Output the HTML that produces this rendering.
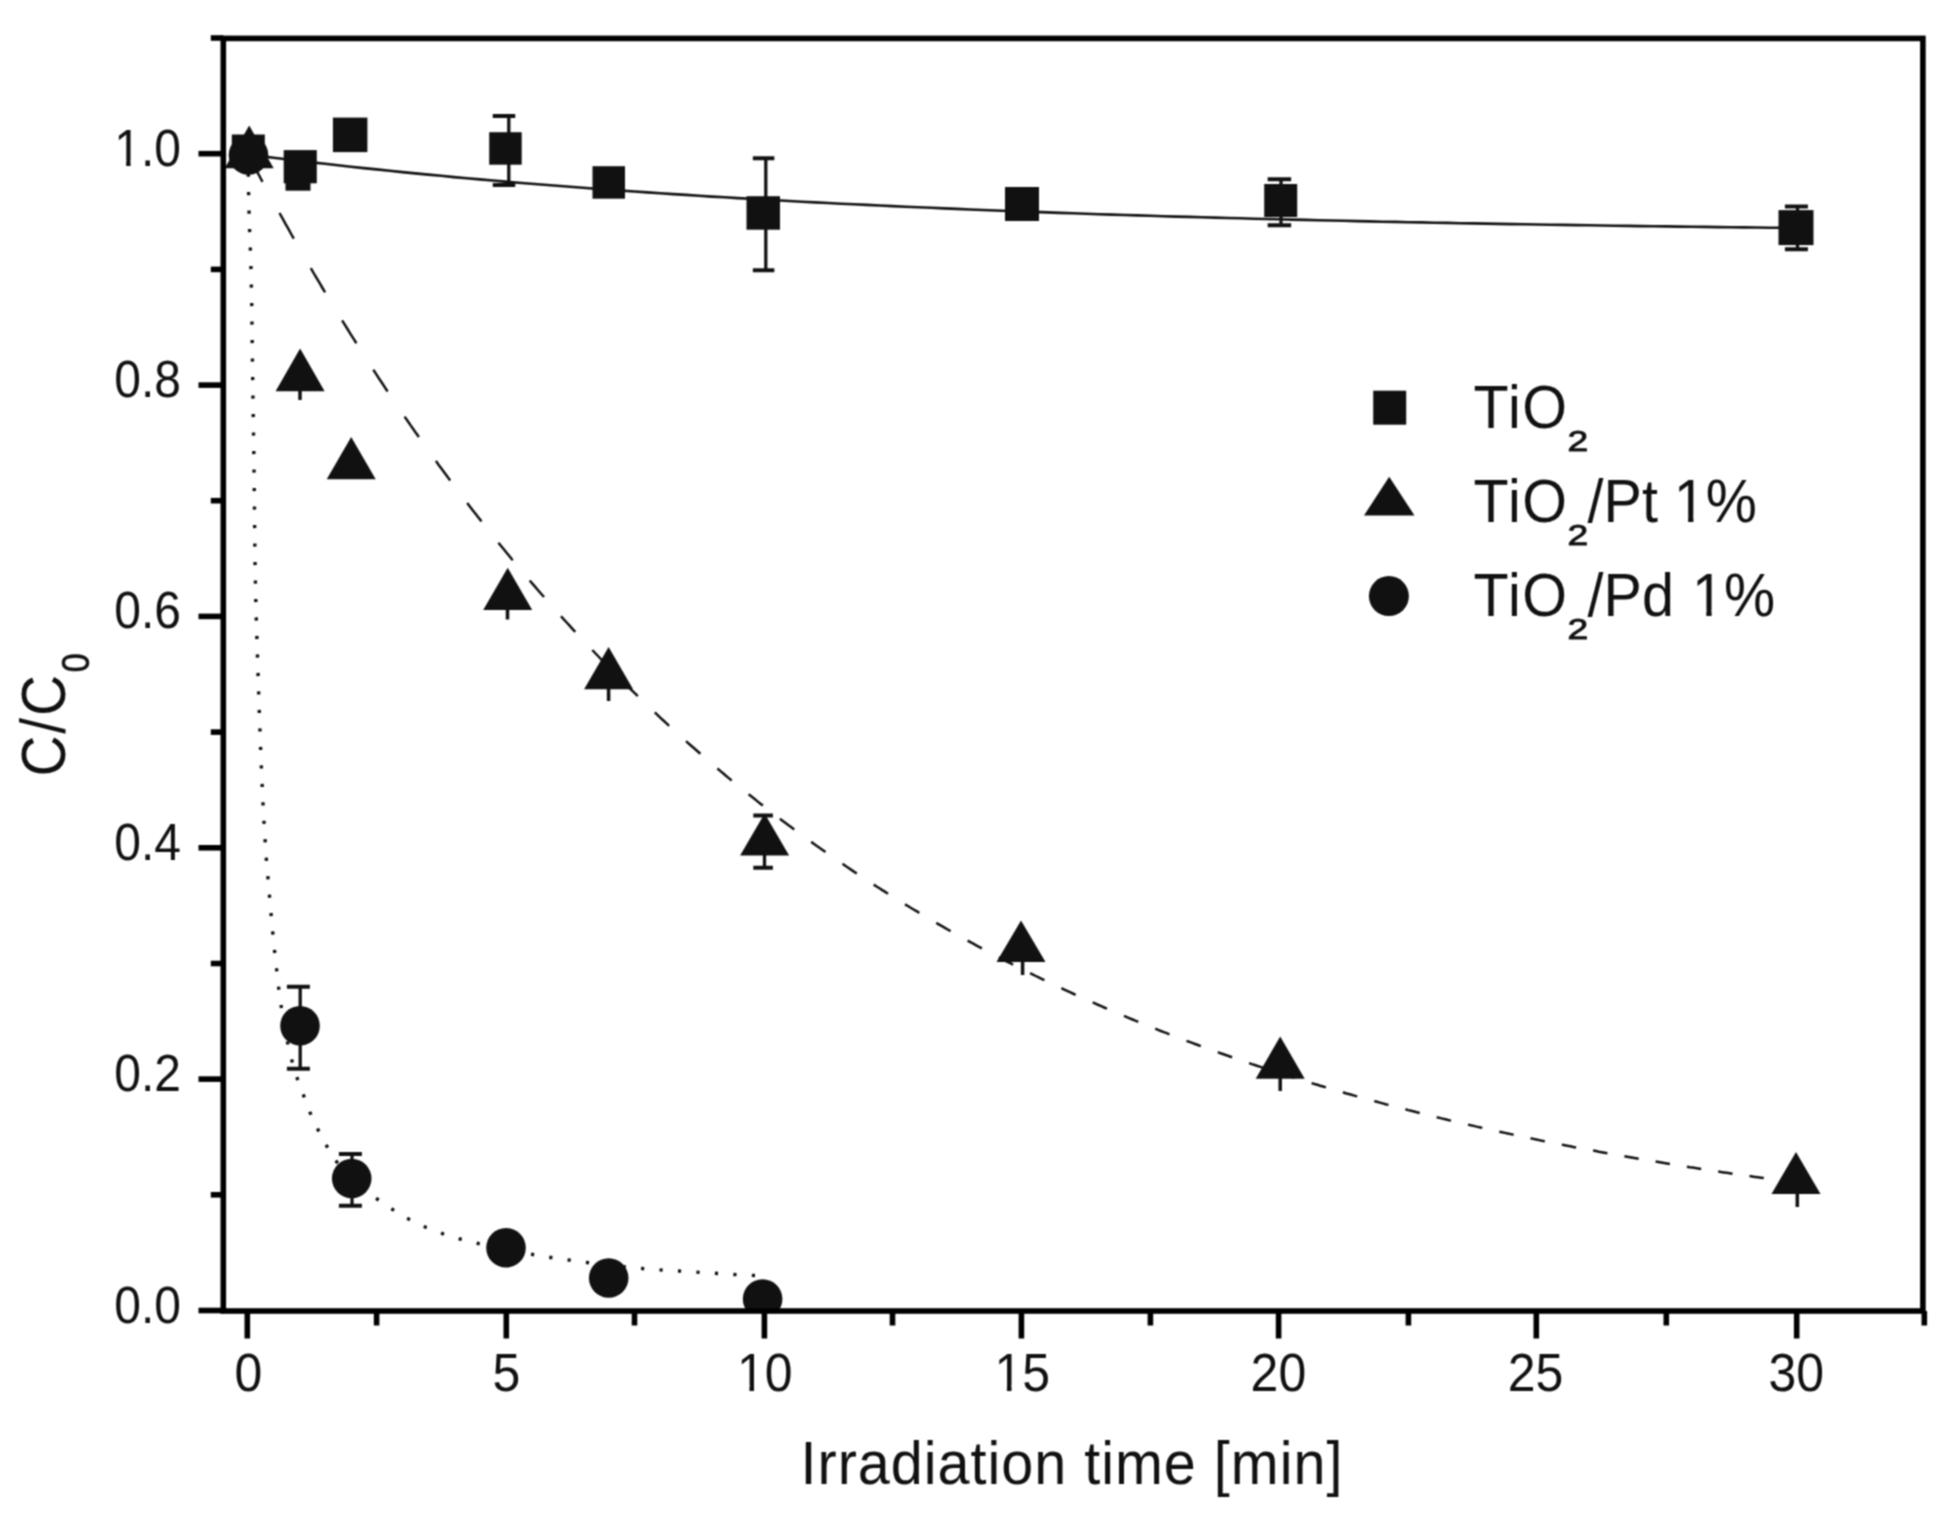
<!DOCTYPE html><html><head><meta charset="utf-8"><title>C/C0 vs irradiation time</title><style>html,body{margin:0;padding:0;background:#fff;overflow:hidden}svg{display:block}</style></head><body>
<svg width="1938" height="1514" viewBox="0 0 1938 1514">
<defs><filter id="soft" x="0" y="0" width="1938" height="1514" filterUnits="userSpaceOnUse" color-interpolation-filters="sRGB"><feConvolveMatrix order="3" kernelMatrix="1 2 1 2 4 2 1 2 1" divisor="16" edgeMode="duplicate" preserveAlpha="true"/></filter></defs>
<g filter="url(#soft)">
<rect width="1938" height="1514" fill="#fff"/>
<defs><clipPath id="pa"><rect x="223.3" y="38.4" width="1699.6000000000001" height="1272.6"/></clipPath><clipPath id="f48"><path clip-rule="evenodd" d="M-300,-300H600V300H-300Z M1.92,-4.80H11.95V2.40H1.92Z M16.37,-4.80H25.92V2.40H16.37Z"/></clipPath><clipPath id="f50"><path clip-rule="evenodd" d="M-300,-300H600V300H-300Z M-25.81,-5.00H-15.36V2.50H-25.81Z M-10.76,-5.00H-0.81V2.50H-10.76Z"/></clipPath><clipPath id="f57"><path clip-rule="evenodd" d="M-300,-300H600V300H-300Z M2.30,-5.75H14.32V2.88H2.30Z M19.61,-5.75H31.05V2.88H19.61Z"/></clipPath></defs>
<g clip-path="url(#pa)">
<path d="M247.8,155.0 L248.3,175.0 L248.7,200.0 L249.6,230.0 L250.8,260.0 L251.7,300.0 L252.3,350.0 L253.0,400.0 L253.8,450.0 L254.4,500.0 L255.0,560.0 L256.0,610.0 L257.6,660.0 L259.2,710.0 L261.0,760.0 L263.3,810.0 L266.0,855.0 L269.0,890.0 L272.0,925.0 L275.5,960.0 L279.5,995.0 L284.0,1025.0 L289.5,1052.0 L296.0,1075.0 L303.0,1094.0 L311.0,1115.0 L321.0,1136.0 L333.5,1158.0 L352.0,1180.0 L370.0,1194.0 L388.0,1206.6 L405.5,1217.5 L424.0,1226.5 L442.0,1233.5 L460.0,1239.0 L478.4,1243.5 L506.0,1249.5 L535.4,1255.0 L554.0,1258.0 L572.3,1260.5 L590.7,1263.0 L608.0,1265.0 L626.7,1267.0 L645.0,1268.8 L664.0,1270.2 L683.0,1271.2 L703.0,1272.6 L720.5,1273.6 L739.0,1274.8 L757.0,1275.6" fill="none" stroke="#111" stroke-width="3.4" stroke-dasharray="3.2 15.3"/>
<g fill="none" stroke="#111" stroke-width="2.5"><polyline points="248.2,154.9 251.1,160.3 253.9,165.7 256.8,171.1 259.7,176.5 262.5,181.8"/><polyline points="279.5,213.0 282.4,218.2 285.2,223.3 288.1,228.4 290.9,233.5 293.8,238.6"/><polyline points="310.8,268.1 313.6,273.0 316.5,277.9 319.4,282.7 322.2,287.5 325.1,292.3"/><polyline points="342.1,320.3 344.9,324.9 347.8,329.5 350.6,334.1 353.5,338.7 356.4,343.2"/><polyline points="373.3,369.7 376.2,374.1 379.0,378.5 381.9,382.8 384.8,387.2 387.6,391.5"/><polyline points="404.6,416.6 407.5,420.7 410.3,424.9 413.2,429.0 416.0,433.1 418.9,437.1"/><polyline points="435.9,460.9 438.7,464.9 441.6,468.8 444.5,472.7 447.3,476.6 450.2,480.4"/><polyline points="467.2,502.9 470.0,506.7 472.9,510.4 475.7,514.1 478.6,517.8 481.5,521.4"/><polyline points="498.4,542.8 501.3,546.3 504.2,549.8 507.0,553.3 509.9,556.8 512.7,560.2"/><polyline points="529.7,580.5 532.6,583.8 535.4,587.1 538.3,590.5 541.1,593.8 544.0,597.0"/><polyline points="561.0,616.2 563.8,619.4 566.7,622.5 569.6,625.7 572.4,628.8 575.3,631.9"/><polyline points="592.3,650.0 595.1,653.0 598.0,656.0 600.8,659.0 603.7,662.0 606.6,664.9"/><polyline points="623.5,682.1 626.4,684.9 629.3,687.8 632.1,690.6 635.0,693.4 637.8,696.2"/><polyline points="654.8,712.4 657.7,715.1 660.5,717.8 663.4,720.5 666.3,723.1 669.1,725.8"/><polyline points="686.1,741.2 688.9,743.8 691.8,746.3 694.7,748.8 697.5,751.3 700.4,753.8"/><polyline points="717.4,768.5 720.2,770.9 723.1,773.3 725.9,775.7 728.8,778.1 731.7,780.4"/><polyline points="748.6,794.3 751.5,796.6 754.4,798.8 757.2,801.1 760.1,803.4 762.9,805.6"/><polyline points="779.9,818.7 782.8,820.9 785.6,823.0 788.5,825.2 791.4,827.3 794.2,829.5"/><polyline points="811.2,841.9 814.1,843.9 816.9,846.0 819.8,848.0 822.6,850.0 825.5,852.1"/><polyline points="842.5,863.8 845.3,865.8 848.2,867.7 851.0,869.6 853.9,871.6 856.8,873.5"/><polyline points="873.7,884.6 876.6,886.5 879.5,888.3 882.3,890.1 885.2,891.9 888.0,893.7"/><polyline points="905.0,904.3 907.9,906.0 910.7,907.8 913.6,909.5 916.5,911.2 919.3,912.9"/><polyline points="936.3,922.9 939.2,924.6 942.0,926.2 944.9,927.9 947.7,929.5 950.6,931.1"/><polyline points="967.6,940.6 970.4,942.2 973.3,943.7 976.2,945.3 979.0,946.8 981.9,948.4"/><polyline points="998.8,957.3 1001.7,958.8 1004.6,960.3 1007.4,961.8 1010.3,963.2 1013.1,964.7"/><polyline points="1030.1,973.2 1033.0,974.6 1035.8,976.0 1038.7,977.4 1041.6,978.8 1044.4,980.2"/><polyline points="1061.4,988.2 1064.3,989.6 1067.1,990.9 1070.0,992.2 1072.8,993.5 1075.7,994.8"/><polyline points="1092.7,1002.4 1095.5,1003.7 1098.4,1005.0 1101.3,1006.2 1104.1,1007.5 1107.0,1008.7"/><polyline points="1124.0,1015.9 1126.8,1017.1 1129.7,1018.3 1132.5,1019.5 1135.4,1020.7 1138.3,1021.8"/><polyline points="1155.2,1028.7 1158.1,1029.8 1160.9,1031.0 1163.8,1032.1 1166.7,1033.2 1169.5,1034.3"/><polyline points="1186.5,1040.8 1189.4,1041.9 1192.2,1042.9 1195.1,1044.0 1197.9,1045.0 1200.8,1046.1"/><polyline points="1217.8,1052.2 1220.6,1053.3 1223.5,1054.3 1226.4,1055.3 1229.2,1056.3 1232.1,1057.3"/><polyline points="1249.1,1063.1 1251.9,1064.1 1254.8,1065.0 1257.6,1066.0 1260.5,1066.9 1263.4,1067.9"/><polyline points="1280.3,1073.4 1283.2,1074.3 1286.1,1075.2 1288.9,1076.1 1291.8,1077.0 1294.6,1077.9"/><polyline points="1311.6,1083.1 1314.5,1084.0 1317.3,1084.8 1320.2,1085.7 1323.0,1086.5 1325.9,1087.4"/><polyline points="1342.9,1092.3 1345.7,1093.2 1348.6,1094.0 1351.5,1094.8 1354.3,1095.6 1357.2,1096.4"/><polyline points="1374.2,1101.1 1377.0,1101.8 1379.9,1102.6 1382.7,1103.4 1385.6,1104.2 1388.5,1104.9"/><polyline points="1405.4,1109.3 1408.3,1110.1 1411.2,1110.8 1414.0,1111.5 1416.9,1112.3 1419.7,1113.0"/><polyline points="1436.7,1117.2 1439.6,1117.9 1442.4,1118.6 1445.3,1119.3 1448.2,1120.0 1451.0,1120.6"/><polyline points="1468.0,1124.6 1470.8,1125.3 1473.7,1125.9 1476.6,1126.6 1479.4,1127.2 1482.3,1127.9"/><polyline points="1499.3,1131.7 1502.1,1132.3 1505.0,1132.9 1507.8,1133.5 1510.7,1134.1 1513.6,1134.7"/><polyline points="1530.5,1138.3 1533.4,1138.9 1536.3,1139.5 1539.1,1140.1 1542.0,1140.7 1544.8,1141.2"/><polyline points="1561.8,1144.6 1564.7,1145.2 1567.5,1145.8 1570.4,1146.3 1573.3,1146.9 1576.1,1147.4"/><polyline points="1593.1,1150.6 1596.0,1151.1 1598.8,1151.7 1601.7,1152.2 1604.5,1152.7 1607.4,1153.2"/><polyline points="1624.4,1156.3 1627.2,1156.8 1630.1,1157.3 1632.9,1157.8 1635.8,1158.3 1638.7,1158.8"/><polyline points="1655.6,1161.6 1658.5,1162.1 1661.4,1162.6 1664.2,1163.1 1667.1,1163.5 1669.9,1164.0"/><polyline points="1686.9,1166.7 1689.8,1167.2 1692.6,1167.6 1695.5,1168.1 1698.4,1168.5 1701.2,1169.0"/><polyline points="1718.2,1171.5 1721.1,1172.0 1723.9,1172.4 1726.8,1172.8 1729.6,1173.2 1732.5,1173.7"/><polyline points="1749.5,1176.1 1752.3,1176.5 1755.2,1176.9 1758.1,1177.3 1760.9,1177.7 1763.8,1178.1"/><polyline points="1780.7,1180.4 1783.6,1180.8 1786.5,1181.2 1789.3,1181.6 1792.2,1182.0 1795.0,1182.3"/></g>
<polyline points="247.6,154.5 260.5,156.1 273.4,157.7 286.3,159.3 299.2,160.8 312.1,162.4 325.0,163.8 337.9,165.3 350.8,166.7 363.7,168.1 376.6,169.4 389.5,170.8 402.4,172.1 415.3,173.4 428.2,174.6 441.1,175.8 454.0,177.1 466.9,178.2 479.8,179.4 492.7,180.5 505.6,181.6 518.4,182.7 531.3,183.8 544.2,184.8 557.1,185.8 570.0,186.8 582.9,187.8 595.8,188.8 608.7,189.7 621.6,190.6 634.5,191.5 647.4,192.4 660.3,193.3 673.2,194.1 686.1,194.9 699.0,195.8 711.9,196.6 724.8,197.3 737.7,198.1 750.6,198.8 763.5,199.6 776.4,200.3 789.3,201.0 802.2,201.7 815.1,202.4 828.0,203.0 840.9,203.7 853.8,204.3 866.7,204.9 879.6,205.5 892.5,206.1 905.4,206.7 918.3,207.3 931.2,207.8 944.1,208.4 957.0,208.9 969.9,209.5 982.8,210.0 995.7,210.5 1008.6,211.0 1021.5,211.5 1034.3,211.9 1047.2,212.4 1060.1,212.9 1073.0,213.3 1085.9,213.7 1098.8,214.2 1111.7,214.6 1124.6,215.0 1137.5,215.4 1150.4,215.8 1163.3,216.2 1176.2,216.6 1189.1,216.9 1202.0,217.3 1214.9,217.6 1227.8,218.0 1240.7,218.3 1253.6,218.7 1266.5,219.0 1279.4,219.3 1292.3,219.6 1305.2,219.9 1318.1,220.2 1331.0,220.5 1343.9,220.8 1356.8,221.1 1369.7,221.4 1382.6,221.7 1395.5,221.9 1408.4,222.2 1421.3,222.4 1434.2,222.7 1447.1,222.9 1460.0,223.2 1472.9,223.4 1485.8,223.6 1498.7,223.9 1511.6,224.1 1524.5,224.3 1537.3,224.5 1550.2,224.7 1563.1,224.9 1576.0,225.1 1588.9,225.3 1601.8,225.5 1614.7,225.7 1627.6,225.9 1640.5,226.1 1653.4,226.2 1666.3,226.4 1679.2,226.6 1692.1,226.7 1705.0,226.9 1717.9,227.1 1730.8,227.2 1743.7,227.4 1756.6,227.5 1769.5,227.7 1782.4,227.8 1795.3,228.0" fill="none" stroke="#111" stroke-width="2.6"/>
<g stroke="#111" stroke-width="4" fill="none"><line x1="508.8" y1="116" x2="508.8" y2="185" stroke-width="3.3"/><line x1="492.75" y1="116" x2="515.25" y2="116"/><line x1="492.75" y1="185" x2="515.25" y2="185"/><line x1="765.8" y1="158.2" x2="765.8" y2="270.3" stroke-width="3.3"/><line x1="752.85" y1="158.2" x2="774.35" y2="158.2"/><line x1="752.85" y1="270.3" x2="774.35" y2="270.3"/><line x1="1281" y1="179.2" x2="1281" y2="225.2" stroke-width="3.3"/><line x1="1267.65" y1="179.2" x2="1291.15" y2="179.2"/><line x1="1267.65" y1="225.2" x2="1291.15" y2="225.2"/><line x1="1797.5" y1="206.5" x2="1797.5" y2="249.3" stroke-width="3.3"/><line x1="1784.9" y1="206.5" x2="1807.9" y2="206.5"/><line x1="1784.9" y1="249.3" x2="1807.9" y2="249.3"/><line x1="300.2" y1="986.7" x2="300.2" y2="1068.8" stroke-width="3.3"/><line x1="286.9" y1="986.7" x2="309.9" y2="986.7"/><line x1="286.9" y1="1068.8" x2="309.9" y2="1068.8"/><line x1="352" y1="1154" x2="352" y2="1205.8" stroke-width="3.3"/><line x1="338.9" y1="1154" x2="361.9" y2="1154"/><line x1="338.9" y1="1205.8" x2="361.9" y2="1205.8"/><line x1="764.5" y1="815.5" x2="764.5" y2="867.8" stroke-width="3.3"/><line x1="753.3000000000001" y1="815.5" x2="772.9" y2="815.5"/><line x1="753.3000000000001" y1="867.8" x2="772.9" y2="867.8"/></g>
<g stroke="#111" stroke-width="3.5"><line x1="300" y1="391" x2="300" y2="400"/><line x1="507.5" y1="610" x2="507.5" y2="619.5"/><line x1="608.6" y1="689" x2="608.6" y2="701"/><line x1="1022.6" y1="962" x2="1022.6" y2="975"/><line x1="1280.2" y1="1078" x2="1280.2" y2="1091"/><line x1="1797.3" y1="1193" x2="1797.3" y2="1207"/></g>
<g fill="#111"><rect x="231.8" y="134.5" width="33" height="33"/><rect x="332.9" y="117.6" width="34.5" height="34.5"/><rect x="489.2" y="132.2" width="32.5" height="32.5"/><rect x="592.5" y="166.2" width="32.5" height="32.5"/><rect x="746.5" y="196.2" width="33.5" height="33.5"/><rect x="1005.0" y="187.0" width="34" height="34"/><rect x="1264.2" y="184.0" width="33" height="33"/><rect x="1778.5" y="210.1" width="35" height="35"/><rect x="283.7" y="150.1" width="33.1" height="33.2"/><rect x="285.5" y="182" width="25" height="8.7"/><polygon points="249.2,125.6 224.7,168.2 273.7,168.2"/><polygon points="300.1,348.4 275.6,391.3 324.6,391.3"/><polygon points="351.2,436.9 326.7,479.2 375.7,479.2"/><polygon points="507.7,567.7 483.2,610.0 532.2,610.0"/><polygon points="608.6,647.0 584.1,689.3 633.1,689.3"/><polygon points="764.6,813.5 740.1,855.6 789.1,855.6"/><polygon points="1021.0,920.5 996.5,962.0 1045.5,962.0"/><polygon points="1280.2,1036.5 1255.7,1078.8 1304.7,1078.8"/><polygon points="1796.0,1152.0 1771.5,1194.0 1820.5,1194.0"/><circle cx="248.5" cy="155.0" r="19.8"/><circle cx="300.0" cy="1025.8" r="19.8"/><circle cx="351.7" cy="1178.5" r="19.8"/><circle cx="506.0" cy="1247.8" r="19.8"/><circle cx="608.7" cy="1278.0" r="19.8"/><circle cx="762.6" cy="1299.0" r="19.8"/></g>
</g>
<rect x="223.3" y="38.4" width="1699.6000000000001" height="1272.6" fill="none" stroke="#000" stroke-width="5.6"/>
<g stroke="#000" stroke-width="5.6"><line x1="247.3" y1="1311.0" x2="247.3" y2="1338.5"/><line x1="506.3" y1="1311.0" x2="506.3" y2="1338.5"/><line x1="764.4" y1="1311.0" x2="764.4" y2="1338.5"/><line x1="1021.4" y1="1311.0" x2="1021.4" y2="1338.5"/><line x1="1278.6" y1="1311.0" x2="1278.6" y2="1338.5"/><line x1="1536.3" y1="1311.0" x2="1536.3" y2="1338.5"/><line x1="1796.7" y1="1311.0" x2="1796.7" y2="1338.5"/><line x1="376.6" y1="1311.0" x2="376.6" y2="1325.5"/><line x1="634.5" y1="1311.0" x2="634.5" y2="1325.5"/><line x1="892.5" y1="1311.0" x2="892.5" y2="1325.5"/><line x1="1150.4" y1="1311.0" x2="1150.4" y2="1325.5"/><line x1="1408.4" y1="1311.0" x2="1408.4" y2="1325.5"/><line x1="1666.3" y1="1311.0" x2="1666.3" y2="1325.5"/><line x1="1924.3" y1="1311.0" x2="1924.3" y2="1325.5"/><line x1="198.5" y1="1310.5" x2="223.3" y2="1310.5"/><line x1="198.5" y1="1079.1" x2="223.3" y2="1079.1"/><line x1="198.5" y1="847.8" x2="223.3" y2="847.8"/><line x1="198.5" y1="616.4" x2="223.3" y2="616.4"/><line x1="198.5" y1="385.1" x2="223.3" y2="385.1"/><line x1="198.5" y1="153.7" x2="223.3" y2="153.7"/><line x1="210.8" y1="1194.8" x2="223.3" y2="1194.8"/><line x1="210.8" y1="963.5" x2="223.3" y2="963.5"/><line x1="210.8" y1="732.1" x2="223.3" y2="732.1"/><line x1="210.8" y1="500.7" x2="223.3" y2="500.7"/><line x1="210.8" y1="269.4" x2="223.3" y2="269.4"/><line x1="210.8" y1="38.0" x2="223.3" y2="38.0"/></g>
<g font-family="Liberation Sans, Arial, Helvetica, sans-serif" font-size="50" fill="#111"><text transform="translate(248.3,1390.6) scale(1,1.08)" text-anchor="middle">0</text><text transform="translate(506.3,1390.6) scale(1,1.08)" text-anchor="middle">5</text><text transform="translate(764.8,1390.6) scale(1,1.08)" text-anchor="middle" clip-path="url(#f50)">10</text><text transform="translate(1022.3,1390.6) scale(1,1.08)" text-anchor="middle" clip-path="url(#f50)">15</text><text transform="translate(1278.4,1390.6) scale(1,1.08)" text-anchor="middle">20</text><text transform="translate(1535.5,1390.6) scale(1,1.08)" text-anchor="middle">25</text><text transform="translate(1796.3,1390.6) scale(1,1.08)" text-anchor="middle">30</text></g>
<g font-family="Liberation Sans, Arial, Helvetica, sans-serif" font-size="48" fill="#111"><text transform="translate(114.2,1322.5) scale(1,1.09)">0.0</text><text transform="translate(114.2,1091.1) scale(1,1.09)">0.2</text><text transform="translate(114.2,859.8) scale(1,1.09)">0.4</text><text transform="translate(114.2,628.4) scale(1,1.09)">0.6</text><text transform="translate(114.2,397.1) scale(1,1.09)">0.8</text><text transform="translate(114.2,165.7) scale(1,1.09)" clip-path="url(#f48)">1.0</text></g>
<text font-family="Liberation Sans, Arial, Helvetica, sans-serif" font-size="57.5" letter-spacing="1.01" fill="#111" transform="translate(800.5,1484.2) scale(1,1.07)">Irradiation time [min]</text>
<text font-family="Liberation Sans, Arial, Helvetica, sans-serif" font-size="56.9" letter-spacing="1.85" fill="#111" transform="translate(64.5,776.6) rotate(-90) scale(1,1.1)">C/C</text>
<text font-family="Liberation Sans, Arial, Helvetica, sans-serif" font-size="34.1" fill="#111" transform="translate(89.4,672.3) rotate(-90) scale(1,1.116)" stroke="#111" stroke-width="0.5">0</text>
<g fill="#111"><rect x="1373.2" y="390.7" width="33" height="34"/><polygon points="1389.2,476.7 1364.0,515.5 1414.5,515.5"/><circle cx="1388.9" cy="596.1" r="20"/></g>
<g font-family="Liberation Sans, Arial, Helvetica, sans-serif" font-size="57.5" fill="#111"><text transform="translate(1473.5,427.9) scale(1,1.05)" letter-spacing="1.5">TiO</text><text transform="translate(1567.6,451.4) scale(1,0.77)" font-size="37.3" stroke="#111" stroke-width="1.1">2</text><text transform="translate(1473.5,521.7) scale(1,1.05)" letter-spacing="1.5">TiO</text><text transform="translate(1567.6,545.2) scale(1,0.77)" font-size="37.3" stroke="#111" stroke-width="1.1">2</text><text transform="translate(1587.6,521.7) scale(1,1.05)">/Pt</text><text transform="translate(1673.8,521.7) scale(1,1.05)" clip-path="url(#f57)">1%</text><text transform="translate(1473.5,615.9) scale(1,1.05)" letter-spacing="1.5">TiO</text><text transform="translate(1567.6,639.4) scale(1,0.77)" font-size="37.3" stroke="#111" stroke-width="1.1">2</text><text transform="translate(1587.6,615.9) scale(1,1.05)">/Pd</text><text transform="translate(1692.0,615.9) scale(1,1.05)" clip-path="url(#f57)">1%</text></g>
</g></svg></body></html>
